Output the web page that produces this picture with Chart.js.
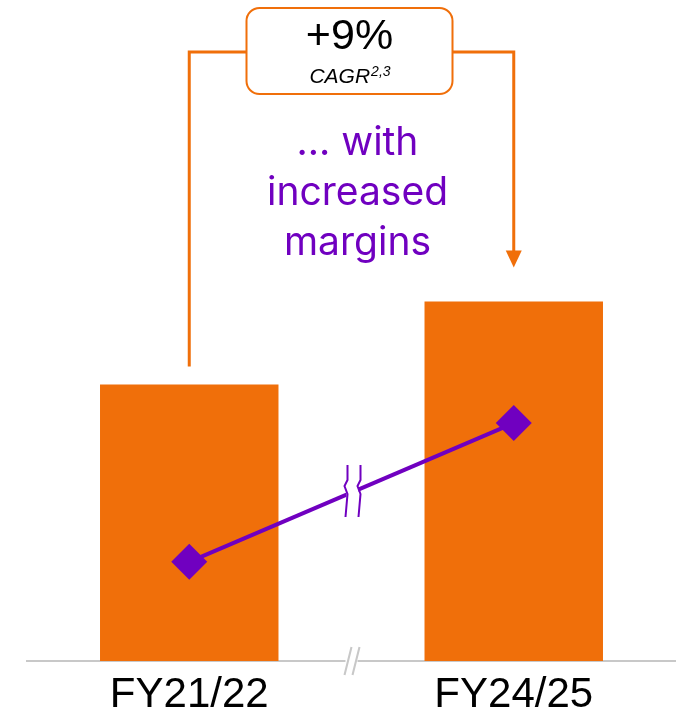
<!DOCTYPE html>
<html>
<head>
<meta charset="utf-8">
<script src="https://cdn.jsdelivr.net/npm/chart.js@4.4.1/dist/chart.umd.min.js"></script>
<style>
    html, body { margin: 0; padding: 0; background: #ffffff; }
    #wrap { width: 676px; height: 711px; }
</style>
</head>
<body>
<div id="wrap"><canvas id="chart" width="676" height="711"></canvas></div>
<script>
// Chart values
const categories = ['FY21/22', 'FY24/25'];
const revenue = [100, 130];        // bars, indexed FY21/22 = 100
const margin = [3.0, 7.2];         // diamonds on the purple line
const cagrValue = '+9%';
const cagrLabel = 'CAGR';
const cagrNote = '2,3';
const noteLines = ['... with', 'increased', 'margins'];

const ORANGE = '#F06F0A';
const PURPLE = '#7000C0';
const GREY = '#C8C8C8';
const SANS = '"Liberation Sans", Arial, sans-serif';

// Draws the CAGR box, the connector arrow, the purple note and the axis/line breaks
const overlayPlugin = {
    id: 'overlay',
    afterDraw(chart) {
        const ctx = chart.ctx;
        const x = chart.scales.x;
        const y = chart.scales.y;
        const x0 = x.getPixelForValue(0);
        const x1 = x.getPixelForValue(1);
        const mid = (x0 + x1) / 2;
        const top0 = y.getPixelForValue(revenue[0]);
        const top1 = y.getPixelForValue(revenue[1]);
        const base = y.getPixelForValue(0);

        ctx.save();

        // break in the purple line
        const pts = chart.getDatasetMeta(1).data;
        const lx = mid + 1;
        const ly = pts[0].y + (lx - pts[0].x) / (pts[1].x - pts[0].x) * (pts[1].y - pts[0].y);
        ctx.fillStyle = '#ffffff';
        ctx.fillRect(lx - 6, ly - 10, 12, 20);
        ctx.strokeStyle = PURPLE;
        ctx.lineWidth = 2;
        [lx - 6, lx + 7].forEach(zx => {
            ctx.beginPath();
            ctx.moveTo(zx + 1, ly - 27);
            ctx.lineTo(zx + 1, ly - 12);
            ctx.lineTo(zx - 2, ly - 6);
            ctx.lineTo(zx + 1, ly + 2);
            ctx.lineTo(zx - 1, ly + 25);
            ctx.stroke();
        });

        // break in the axis line
        ctx.fillStyle = '#ffffff';
        ctx.fillRect(mid - 6, base - 3, 12, 6);
        ctx.strokeStyle = GREY;
        ctx.lineWidth = 2;
        [mid - 4, mid + 4].forEach(sx => {
            ctx.beginPath();
            ctx.moveTo(sx + 4, base - 14);
            ctx.lineTo(sx - 3, base + 14);
            ctx.stroke();
        });

        // CAGR box
        const bx = mid - 105, bw = 206, by = 8, bh = 86;
        ctx.strokeStyle = ORANGE;
        ctx.lineWidth = 2;
        ctx.beginPath();
        ctx.roundRect(bx, by, bw, bh, 13);
        ctx.stroke();

        // connector arrow
        const hy = 52;
        ctx.lineWidth = 3;
        ctx.beginPath();
        ctx.moveTo(x0, top0 - 18);
        ctx.lineTo(x0, hy);
        ctx.lineTo(bx, hy);
        ctx.moveTo(bx + bw, hy);
        ctx.lineTo(x1, hy);
        ctx.lineTo(x1, top1 - 50);
        ctx.stroke();
        ctx.fillStyle = ORANGE;
        ctx.beginPath();
        ctx.moveTo(x1 - 8, top1 - 51);
        ctx.lineTo(x1 + 8, top1 - 51);
        ctx.lineTo(x1, top1 - 34);
        ctx.closePath();
        ctx.fill();

        // CAGR text
        const cx = bx + bw / 2;
        ctx.fillStyle = '#000000';
        ctx.textAlign = 'center';
        ctx.textBaseline = 'alphabetic';
        ctx.font = '43px ' + SANS;
        ctx.fillText(cagrValue, cx, 49);
        ctx.font = 'italic 21px ' + SANS;
        const w1 = ctx.measureText(cagrLabel).width;
        ctx.font = 'italic 14px ' + SANS;
        const w2 = ctx.measureText(cagrNote).width;
        ctx.textAlign = 'left';
        ctx.font = 'italic 21px ' + SANS;
        ctx.fillText(cagrLabel, cx - (w1 + w2) / 2, 83);
        ctx.font = 'italic 14px ' + SANS;
        ctx.fillText(cagrNote, cx - (w1 + w2) / 2 + w1 + 1, 76);

        // purple note
        ctx.fillStyle = PURPLE;
        ctx.textAlign = 'center';
        ctx.font = '39px Inter, "Noto Sans", sans-serif';
        noteLines.forEach((t, i) => ctx.fillText(t, mid + 6, 155 + i * 50));

        ctx.restore();
    }
};

new Chart(document.getElementById('chart'), {
    data: {
        labels: categories,
        datasets: [{
            type: 'bar',
            data: revenue,
            backgroundColor: ORANGE,
            barPercentage: 0.55,
            categoryPercentage: 1,
            yAxisID: 'y',
            order: 2
        }, {
            type: 'line',
            data: margin,
            borderColor: PURPLE,
            borderWidth: 4,
            backgroundColor: PURPLE,
            pointStyle: 'rectRot',
            pointRadius: 18,
            pointHoverRadius: 18,
            pointBorderWidth: 0,
            yAxisID: 'y2',
            order: 1
        }]
    },
    options: {
        responsive: false,
        animation: false,
        devicePixelRatio: 1,
        layout: { autoPadding: false, padding: { left: 27, right: 0, top: 0, bottom: 0 } },
        plugins: {
            legend: { display: false },
            tooltip: { enabled: false }
        },
        scales: {
            x: {
                grid: { display: false, drawTicks: false },
                border: { display: true, color: GREY, width: 2 },
                ticks: { color: '#000000', font: { family: SANS, size: 42 }, padding: 9 },
                afterFit: (scale) => {
                    scale.height = 50;
                    scale.paddingLeft = 0;
                    scale.paddingRight = 0;
                }
            },
            y: { display: false, min: 0, max: 239 },
            y2: { display: false, min: 0, max: 20 }
        }
    },
    plugins: [overlayPlugin]
});
</script>
</body>
</html>
